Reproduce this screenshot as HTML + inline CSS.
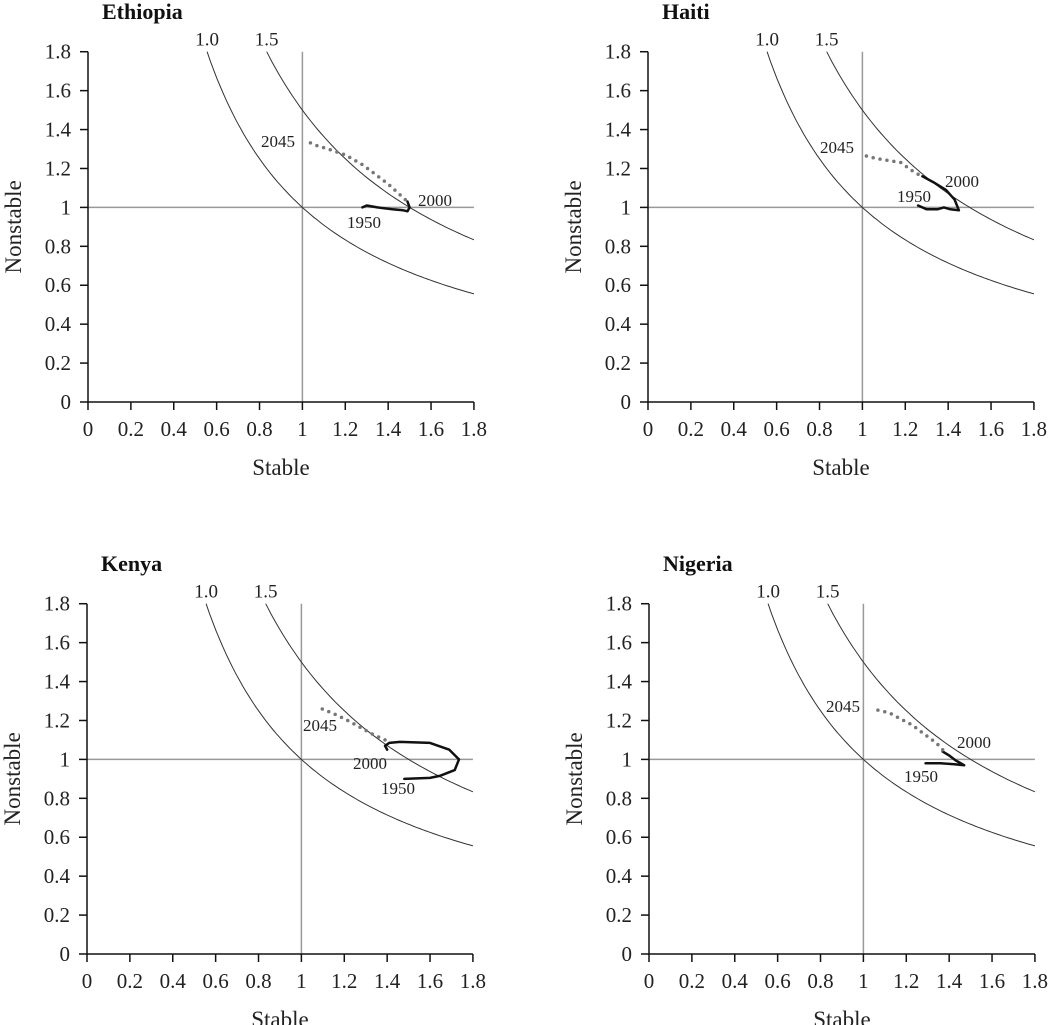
<!DOCTYPE html>
<html><head><meta charset="utf-8"><style>
html,body{margin:0;padding:0;background:#fff;}
svg{display:block;font-family:"Liberation Serif",serif;}
</style></head><body>
<svg id="chart" width="1050" height="1025" viewBox="0 0 1050 1025" xmlns="http://www.w3.org/2000/svg"></svg>
<script>
const panelNames = ["Ethiopia","Haiti","Kenya","Nigeria"];
const xTicks = [0,0.2,0.4,0.6,0.8,1,1.2,1.4,1.6,1.8];
const xTickLabels = ["0","0.2","0.4","0.6","0.8","1","1.2","1.4","1.6","1.8"];
const yTicks = [0,0.2,0.4,0.6,0.8,1,1.2,1.4,1.6,1.8];
const yTickLabels = ["0","0.2","0.4","0.6","0.8","1","1.2","1.4","1.6","1.8"];
const isoLevels = [1.0, 1.5];
const isoLabels = ["1.0","1.5"];
const ethSolidX = [1.28,1.30,1.35,1.42,1.47,1.49,1.50,1.49];
const ethSolidY = [1.00,1.01,1.00,0.99,0.985,0.98,1.00,1.03];
const ethDotX = [1.48,1.44,1.40,1.34,1.28,1.20,1.12,1.06,1.02];
const ethDotY = [1.04,1.08,1.12,1.17,1.22,1.27,1.30,1.32,1.34];
const haiSolidX = [1.26,1.30,1.35,1.38,1.41,1.45,1.43,1.41,1.39,1.33,1.28];
const haiSolidY = [1.01,0.99,0.99,1.00,0.99,0.985,1.04,1.065,1.09,1.13,1.16];
const haiDotX = [1.26,1.23,1.18,1.13,1.07,1.00];
const haiDotY = [1.17,1.19,1.23,1.24,1.25,1.27];
const kenSolidX = [1.48,1.60,1.645,1.715,1.735,1.69,1.60,1.46,1.41,1.39,1.40];
const kenSolidY = [0.90,0.905,0.915,0.945,1.00,1.05,1.085,1.09,1.085,1.07,1.05];
const kenDotX = [1.39,1.34,1.29,1.225,1.18,1.14,1.095];
const kenDotY = [1.10,1.125,1.155,1.195,1.22,1.24,1.26];
const nigSolidX = [1.29,1.36,1.425,1.47,1.43,1.40,1.37];
const nigSolidY = [0.98,0.98,0.975,0.97,0.995,1.02,1.04];
const nigDotX = [1.37,1.34,1.29,1.23,1.17,1.12,1.06];
const nigDotY = [1.05,1.085,1.125,1.175,1.21,1.24,1.255];
const yearLabels = ["1950","2000","2045"];

const svg = document.getElementById('chart');
const NS = "http://www.w3.org/2000/svg";
const SX = 214.4, SY = 194.6;
const panels = [
  {ox:88, oy:402, title:panelNames[0], sx:ethSolidX, sy:ethSolidY, dx:ethDotX, dy:ethDotY, lab:[[347,228],[418,206],[261,147]]},
  {ox:648, oy:402, title:panelNames[1], sx:haiSolidX, sy:haiSolidY, dx:haiDotX, dy:haiDotY, lab:[[897,202],[945,187],[820,153]]},
  {ox:87, oy:954, title:panelNames[2], sx:kenSolidX, sy:kenSolidY, dx:kenDotX, dy:kenDotY, lab:[[381,794],[353,769],[303,731]]},
  {ox:649, oy:954, title:panelNames[3], sx:nigSolidX, sy:nigSolidY, dx:nigDotX, dy:nigDotY, lab:[[904,782],[957,748],[826,712]]}
];
function mk(tag, attrs, parent){const e=document.createElementNS(NS,tag);for(const k in attrs)e.setAttribute(k,attrs[k]);(parent||svg).appendChild(e);return e;}
panels.forEach((p,pi)=>{
  const X=v=>p.ox+v*SX, Y=v=>p.oy-v*SY;
  const g=mk('g',{});
  
  
  const t=mk('text',{x:p.ox+14,y:p.oy-383,'font-size':22,'font-weight':'bold',fill:'#111'},g);
  t.textContent=p.title;
  
  
  const vl=mk('line',{x1:X(1),x2:X(1),y1:Y(0),y2:Y(1.8),stroke:'#999','stroke-width':1.5},g);
  
  
  const hl=mk('line',{x1:X(0),x2:X(1.8),y1:Y(1),y2:Y(1),stroke:'#999','stroke-width':1.5},g);
  
  
  isoLevels.forEach((k,ki)=>{
    let d='';const x0=k/1.8;
    for(let i=0;i<=80;i++){const x=x0+(1.8-x0)*i/80;d+=(i?'L':'M')+X(x).toFixed(1)+','+Y(k/x).toFixed(1);}
    const c=mk('path',{d:d,fill:'none',stroke:'#333','stroke-width':1},g);
    
    
    const lt=mk('text',{x:X(x0),y:Y(1.8)-6,'font-size':19,'text-anchor':'middle',fill:'#222'},g);
    lt.textContent=isoLabels[ki];
    
    
  });
  const ax=mk('path',{d:`M${X(0)},${Y(1.8)}L${X(0)},${Y(0)}L${X(1.8)},${Y(0)}`,fill:'none',stroke:'#111','stroke-width':1.5},g);
  
  
  xTicks.forEach((v,i)=>{
    const tk=mk('line',{x1:X(v),x2:X(v),y1:Y(0),y2:Y(0)+8,stroke:'#111','stroke-width':1.5},g);
    
    
    const tl=mk('text',{x:X(v),y:Y(0)+34,'font-size':21,'text-anchor':'middle',fill:'#222'},g);
    tl.textContent=xTickLabels[i];
    
    
  });
  yTicks.forEach((v,i)=>{
    const tk=mk('line',{x1:X(0)-8,x2:X(0),y1:Y(v),y2:Y(v),stroke:'#111','stroke-width':1.5},g);
    
    
    const tl=mk('text',{x:X(0)-17,y:Y(v)+7,'font-size':21,'text-anchor':'end',fill:'#222'},g);
    tl.textContent=yTickLabels[i];
    
    
  });
  const xt=mk('text',{x:X(0.9),y:Y(0)+73,'font-size':23,'text-anchor':'middle',fill:'#222'},g);
  xt.textContent='Stable';
  
  
  const yx=p.ox-67, yy=Y(0.9);
  const yt=mk('text',{x:yx,y:yy,'font-size':23,'text-anchor':'middle',fill:'#222',transform:`rotate(-90 ${yx} ${yy})`},g);
  yt.textContent='Nonstable';
  
  
  let d='';p.sx.forEach((v,i)=>{d+=(i?'L':'M')+X(v).toFixed(1)+','+Y(p.sy[i]).toFixed(1);});
  const s=mk('path',{d:d,fill:'none',stroke:'#111','stroke-width':2.5,'stroke-linejoin':'round','stroke-linecap':'round'},g);
  
  
  let d2='';p.dx.forEach((v,i)=>{d2+=(i?'L':'M')+X(v).toFixed(1)+','+Y(p.dy[i]).toFixed(1);});
  const s2=mk('path',{d:d2,fill:'none',stroke:'#777','stroke-width':3.5,'stroke-dasharray':'0 7','stroke-linecap':'round'},g);
  
  
  p.lab.forEach((l,i)=>{
    const yl=mk('text',{x:l[0],y:l[1],'font-size':17,fill:'#222'},g);
    yl.textContent=yearLabels[i];
    
    
  });
});
</script>
</body></html>
